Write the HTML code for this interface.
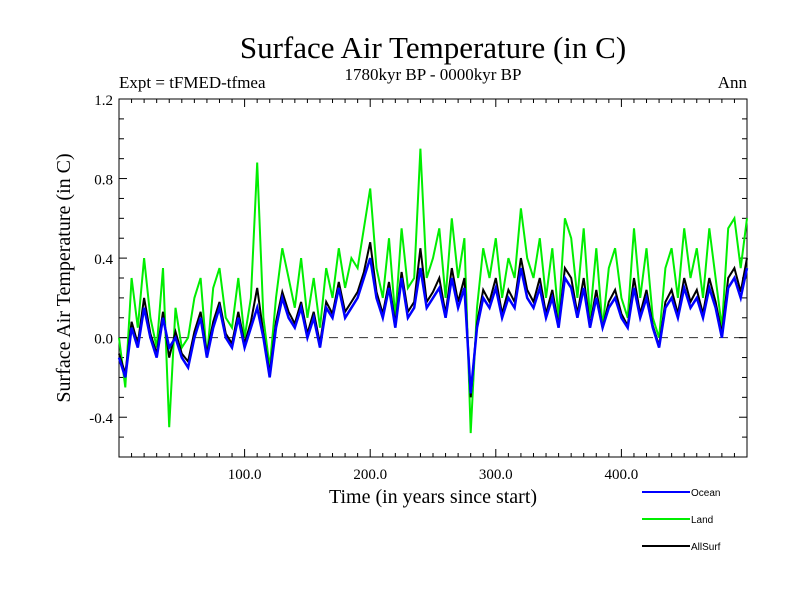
<!DOCTYPE html>
<html><head><meta charset="utf-8"><style>
body{margin:0;background:#fff;}
svg text{font-family:"Liberation Serif",serif;}
svg text.sans{font-family:"Liberation Sans",sans-serif;}
</style></head><body>
<svg id="chart" width="800" height="600" xmlns="http://www.w3.org/2000/svg">
<text x="433" y="58" font-size="31" text-anchor="middle">Surface Air Temperature (in C)</text>
<text x="119" y="88" font-size="17">Expt = tFMED-tfmea</text>
<text x="433" y="80" font-size="17" text-anchor="middle">1780kyr BP - 0000kyr BP</text>
<text x="747" y="88" font-size="17" text-anchor="end">Ann</text>
<text x="433" y="503" font-size="20" text-anchor="middle">Time (in years since start)</text>
<text transform="translate(70,278) rotate(-90)" font-size="20" text-anchor="middle">Surface Air Temperature (in C)</text>
<g id="plot"></g>
<g id="legend"></g>
</svg>
<script>
const years=[];for(let i=0;i<=100;i++)years.push(i*5);
const ocean=[-0.1,-0.2,0.05,-0.05,0.15,0.0,-0.1,0.1,-0.05,0.0,-0.1,-0.15,0.0,0.1,-0.1,0.05,0.15,0.0,-0.05,0.1,-0.05,0.05,0.15,0.0,-0.2,0.05,0.2,0.1,0.05,0.15,0.0,0.1,-0.05,0.15,0.1,0.25,0.1,0.15,0.2,0.3,0.4,0.2,0.1,0.25,0.05,0.3,0.1,0.15,0.35,0.15,0.2,0.25,0.1,0.3,0.15,0.25,-0.28,0.05,0.2,0.15,0.25,0.1,0.2,0.15,0.35,0.2,0.15,0.25,0.1,0.2,0.05,0.3,0.25,0.1,0.25,0.05,0.2,0.05,0.15,0.2,0.1,0.05,0.25,0.1,0.2,0.05,-0.05,0.15,0.2,0.1,0.25,0.15,0.2,0.1,0.25,0.15,0.0,0.25,0.3,0.2,0.35];
const land=[0.0,-0.25,0.3,0.05,0.4,0.1,-0.05,0.35,-0.45,0.15,-0.05,0.0,0.2,0.3,-0.1,0.25,0.35,0.1,0.05,0.3,0.0,0.2,0.88,0.1,-0.15,0.2,0.45,0.3,0.15,0.4,0.1,0.3,0.05,0.35,0.2,0.45,0.25,0.4,0.35,0.55,0.75,0.35,0.2,0.5,0.1,0.55,0.25,0.3,0.95,0.3,0.4,0.55,0.2,0.6,0.3,0.5,-0.48,0.15,0.45,0.3,0.5,0.2,0.4,0.3,0.65,0.4,0.3,0.5,0.2,0.45,0.1,0.6,0.5,0.2,0.55,0.1,0.45,0.05,0.35,0.45,0.2,0.1,0.55,0.2,0.45,0.1,0.0,0.35,0.45,0.2,0.55,0.3,0.45,0.2,0.55,0.3,0.05,0.55,0.6,0.35,0.6];
const allsurf=[-0.08,-0.18,0.08,-0.03,0.2,0.02,-0.08,0.13,-0.1,0.03,-0.08,-0.12,0.03,0.13,-0.08,0.08,0.18,0.02,-0.03,0.13,-0.03,0.08,0.25,0.02,-0.18,0.08,0.23,0.13,0.07,0.18,0.02,0.13,-0.03,0.18,0.12,0.28,0.13,0.18,0.23,0.33,0.48,0.23,0.12,0.28,0.07,0.33,0.13,0.18,0.45,0.18,0.23,0.3,0.12,0.35,0.18,0.3,-0.3,0.07,0.24,0.18,0.3,0.12,0.24,0.18,0.4,0.24,0.18,0.3,0.12,0.24,0.06,0.35,0.3,0.12,0.3,0.06,0.24,0.05,0.18,0.24,0.12,0.06,0.3,0.12,0.24,0.06,-0.04,0.18,0.24,0.12,0.3,0.18,0.24,0.12,0.3,0.18,0.02,0.3,0.35,0.23,0.4];
const xTicks=[100,200,300,400];
const xTickLabels=["100.0","200.0","300.0","400.0"];
const yTicks=[-0.4,0.0,0.4,0.8,1.2];
const yTickLabels=["-0.4","0.0","0.4","0.8","1.2"];

const X0=119,X1=747,Y0=457,Y1=99,XMIN=0,XMAX=500,YMIN=-0.6,YMAX=1.2;
const sx=v=>X0+(v-XMIN)/(XMAX-XMIN)*(X1-X0);
const sy=v=>Y0-(v-YMIN)/(YMAX-YMIN)*(Y0-Y1);
const NS="http://www.w3.org/2000/svg";
const plot=document.getElementById('plot');
function mk(t,a,p){const e=document.createElementNS(NS,t);for(const k in a)e.setAttribute(k,a[k]);(p||plot).appendChild(e);return e;}
const frame=mk('rect',{x:X0,y:Y1,width:X1-X0,height:Y0-Y1,fill:'none',stroke:'#000','stroke-width':1});


const zl=mk('line',{x1:X0,x2:X1,y1:sy(0),y2:sy(0),stroke:'#333','stroke-dasharray':'9,6','stroke-width':1});


for(let v=-0.6;v<=1.2001;v+=0.1){const y=sy(v);const major=Math.abs(Math.round(v*10)%4)===0;const L=major?8:5;
 mk('line',{x1:X0,x2:X0+L,y1:y,y2:y,stroke:'#000'});mk('line',{x1:X1,x2:X1-L,y1:y,y2:y,stroke:'#000'});}
for(let v=10;v<500;v+=10){const x=sx(v);const L=v%100===0?8:4;
 mk('line',{x1:x,x2:x,y1:Y0,y2:Y0-L,stroke:'#000'});mk('line',{x1:x,x2:x,y1:Y1,y2:Y1+L,stroke:'#000'});}
yTicks.forEach((v,i)=>{const t=mk('text',{x:X0-6,y:sy(v)+6,'font-size':15,'text-anchor':'end'});t.textContent=yTickLabels[i];
 
 });
xTicks.forEach((v,i)=>{const t=mk('text',{x:sx(v),y:Y0+22,'font-size':15,'text-anchor':'middle'});t.textContent=xTickLabels[i];
 
 });
function series(vals,color,w,name){const d=vals.map((v,i)=>(i?'L':'M')+sx(years[i]).toFixed(1)+','+sy(v).toFixed(1)).join('');
 const p=mk('path',{d:d,fill:'none',stroke:color,'stroke-width':w});
 
 }
series(land,'#00ee00',2,'land-line');
series(allsurf,'#000',2,'allsurf-line');
series(ocean,'#0000ff',2.5,'ocean-line');
const lg=document.getElementById('legend');
[['Ocean','#0000ff',492],['Land','#00ee00',519],['AllSurf','#000',546]].forEach(([n,c,y])=>{
 const l=mk('line',{x1:642,x2:690,y1:y,y2:y,stroke:c,'stroke-width':2},lg);
 
 
 const t=mk('text',{x:691,y:y+4,'font-size':10,'class':'sans'},lg);t.textContent=n;
 
 });
</script>
</body></html>
